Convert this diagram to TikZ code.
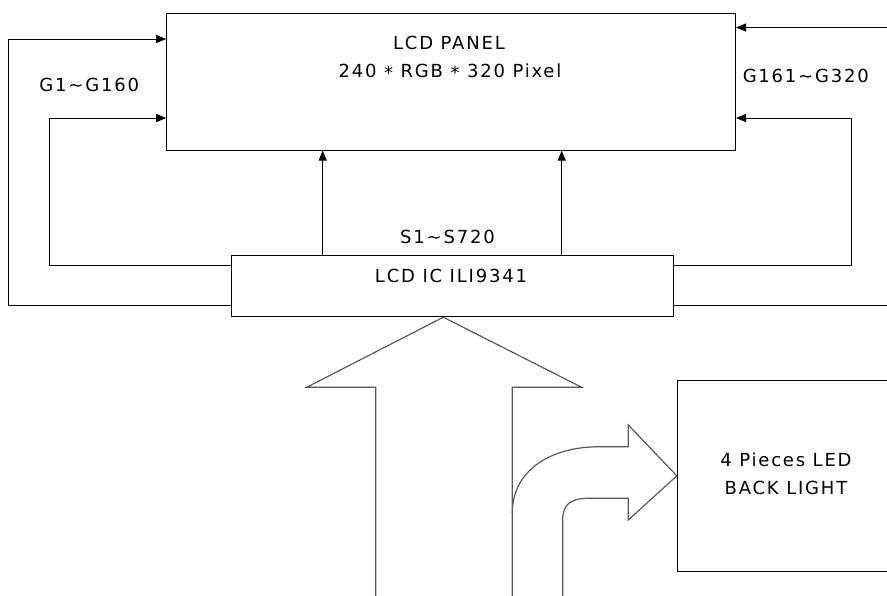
\documentclass[tikz,border=0pt]{standalone}
\usepackage{fontspec}
\setmainfont{DejaVu Sans}[LetterSpace=10]
\usetikzlibrary{arrows.meta,calc}
\begin{document}
\begin{tikzpicture}[x=1pt,y=-1pt,
  box/.style={draw=black,line width=1pt,rectangle,inner sep=0pt},
  lbl/.style={inner sep=0pt,font=\fontsize{18}{21}\selectfont,text=black},
  arr/.style={line width=1pt,-{Triangle[length=10pt,width=8pt]}},
  wire/.style={line width=1pt},
  fat/.style={draw=black!65,line width=1.2pt,line join=miter}]
\useasboundingbox (0,0) rectangle (887,595);
% boxes
\node[box,minimum width=568.8pt,minimum height=136.7pt] (panel) at (451.1,81.7) {};
\node[box,minimum width=442.3pt,minimum height=61.2pt] (ic) at (452.2,286.1) {};
\node[box,minimum width=240pt,minimum height=191.7pt] (bl) at (797.3,475.85) {};
% labels
\node[lbl] (t1) at (449,42.5) {LCD PANEL};
\node[lbl] (t2) at (450,71.7) {240 \raisebox{-2.5pt}{*} RGB \raisebox{-2.5pt}{*} 320 Pixel};
\node[lbl] (t3) at (89.2,85.3) {G1\char"7E G160};
\node[lbl] (t4) at (805.8,75.8) {G161\char"7E G320};
\node[lbl] (t5) at (447.5,236.7) {S1\char"7E S720};
\node[lbl] (t6) at (451,275.8) {LCD IC ILI9341};
\node[lbl,align=center] (t7) at (786,474) {4 Pieces LED\\[7pt]BACK LIGHT};
% helper coordinates
\coordinate (yA) at (0,39);
\coordinate (yB) at (0,118);
\coordinate (yC) at (0,265);
\coordinate (yD) at (0,305);
\coordinate (yE) at (0,27.5);
\coordinate (xL1) at (8.3,0);
\coordinate (xL2) at (49.3,0);
\coordinate (xR1) at (851.7,0);
\coordinate (xR2) at (895,0);
\coordinate (xS1) at (322.7,0);
\coordinate (xS2) at (561.7,0);
\coordinate (tip) at (443.3,0);
% left connectors
\draw[arr] (ic.west |- yD) -- (xL1 |- yD) -- (xL1 |- yA) -- (panel.west |- yA);
\draw[arr] (ic.west |- yC) -- (xL2 |- yC) -- (xL2 |- yB) -- (panel.west |- yB);
% right connectors
\draw[arr] (ic.east |- yC) -- (xR1 |- yC) -- (xR1 |- yB) -- (panel.east |- yB);
\draw[arr] (xR2 |- yE) -- (panel.east |- yE);
\draw[wire] (ic.east |- yD) -- (xR2 |- yD);
% S lines
\draw[arr] (ic.north -| xS1) -- (panel.south -| xS1);
\draw[arr] (ic.north -| xS2) -- (panel.south -| xS2);
% big up arrow
\draw[fat] (375.7,600) -- (375.7,387.3) -- (306.7,387.3) -- (ic.south -| tip) -- (581.7,387.3) -- (512.3,387.3) -- (512.3,600);
% curved arrow to back light
\draw[fat] (512.3,513) .. controls (512.3,472) and (548,446.7) .. (600,446.7)
  -- (628.3,446.7) -- (628.3,425) -- (bl.west) -- (628.3,520) -- (628.3,498.3)
  -- (588,498.3) .. controls (570,498.3) and (562.7,505) .. (562.7,520) -- (562.7,600);
\end{tikzpicture}
\end{document}
